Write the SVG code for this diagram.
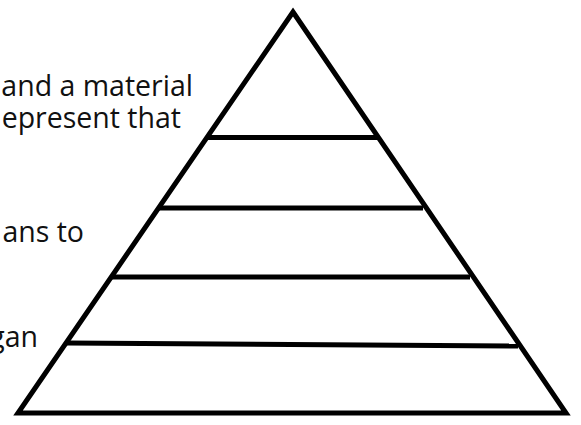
<svg xmlns="http://www.w3.org/2000/svg" width="581" height="425" viewBox="0 0 581 425">
  <style>
    .lbl { font-family: "Open Sans", "Noto Sans", "DejaVu Sans", sans-serif; font-size: 28.5px; fill: #111; text-anchor: end; }
    .ln { stroke: #000; stroke-width: 5; fill: none; }
  </style>
  <rect width="581" height="425" fill="#fff"/>
  <g id="labels">
    <text class="lbl" x="193" y="96">and a material</text>
    <text class="lbl" x="181" y="128">epresent that</text>
    <text class="lbl" x="84" y="242">ans to</text>
    <text class="lbl" x="38" y="347">gan</text>
  </g>
  <g id="pyramid">
    <polygon class="ln" points="293,12 566,413 18,413" stroke-linejoin="miter"/>
  </g>
  <g id="connectors">
    <line class="ln" x1="207" y1="137.5" x2="378" y2="137.5"/>
    <line class="ln" x1="159" y1="208" x2="423" y2="208"/>
    <line class="ln" x1="112" y1="277" x2="470" y2="277"/>
    <line class="ln" x1="67" y1="343" x2="518" y2="346"/>
  </g>
</svg>
